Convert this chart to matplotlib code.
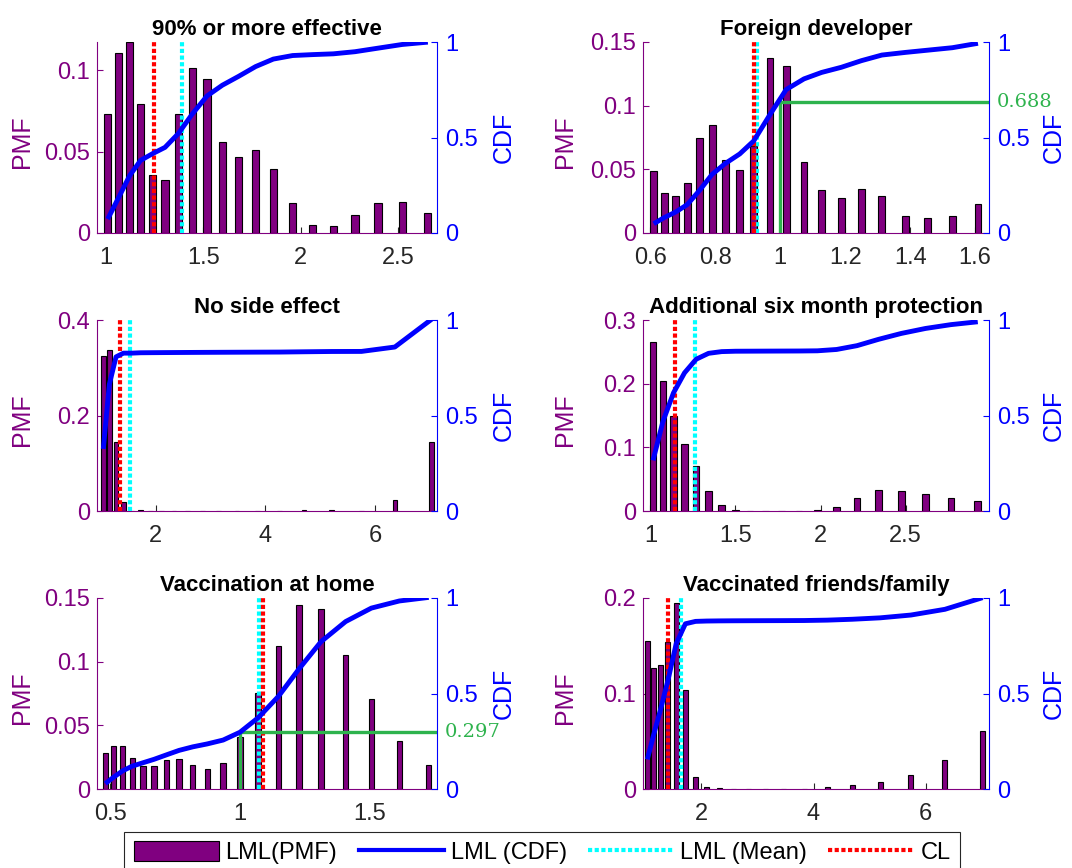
import numpy as np
import matplotlib
matplotlib.use("Agg")
import matplotlib.pyplot as plt
from matplotlib.patches import Patch
from matplotlib.lines import Line2D
import matplotlib.transforms as mtransforms

# ---------------- data ----------------
titles = ["90% or more effective", "Foreign developer", "No side effect",
          "Additional six month protection", "Vaccination at home",
          "Vaccinated friends/family"]

x_effective = [1.010, 1.065, 1.123, 1.179, 1.241, 1.304, 1.373, 1.444, 1.520, 1.598,
               1.682, 1.769, 1.860, 1.959, 2.062, 2.168, 2.279, 2.397, 2.521, 2.653]
pmf_effective = [0.0730, 0.1107, 0.1173, 0.0794, 0.0354, 0.0325, 0.0730, 0.1016, 0.0949, 0.0558,
                 0.0467, 0.0510, 0.0393, 0.0185, 0.0049, 0.0041, 0.0111, 0.0185, 0.0193, 0.0123]

x_foreign = [0.610, 0.642, 0.677, 0.713, 0.751, 0.790, 0.831, 0.875, 0.918, 0.968,
             1.018, 1.073, 1.127, 1.188, 1.250, 1.313, 1.385, 1.453, 1.530, 1.609]
pmf_foreign = [0.0486, 0.0318, 0.0289, 0.0389, 0.0744, 0.0846, 0.0573, 0.0494, 0.0680, 0.1375,
               0.1315, 0.0560, 0.0336, 0.0271, 0.0347, 0.0294, 0.0137, 0.0116, 0.0131, 0.0231]

x_noside = [1.044, 1.154, 1.276, 1.411, 1.560, 1.725, 1.907, 2.108, 2.331, 2.577,
            2.849, 3.150, 3.483, 3.851, 4.257, 4.707, 5.204, 5.753, 6.361, 7.030]
pmf_noside = [0.325, 0.338, 0.144, 0.0195, 0.0, 0.002, 0.0004, 0.0004, 0.0004, 0.0004,
              0.0004, 0.0004, 0.0004, 0.0004, 0.0004, 0.0015, 0.0015, 0.0004, 0.023, 0.145]

x_sixmonth = [1.016, 1.074, 1.136, 1.201, 1.269, 1.342, 1.419, 1.500, 1.586, 1.676,
              1.772, 1.873, 1.981, 2.094, 2.214, 2.340, 2.474, 2.616, 2.765, 2.923]
pmf_sixmonth = [0.265, 0.2035, 0.150, 0.105, 0.071, 0.031, 0.009, 0.002, 0.0003, 0.0003,
                0.0003, 0.0003, 0.001, 0.007, 0.020, 0.033, 0.031, 0.026, 0.020, 0.015]

x_home = [0.481, 0.513, 0.548, 0.585, 0.627, 0.669, 0.716, 0.765, 0.818, 0.874,
          0.935, 1.000, 1.070, 1.148, 1.228, 1.312, 1.407, 1.506, 1.614, 1.727]
pmf_home = [0.0283, 0.0335, 0.0335, 0.0246, 0.0178, 0.0178, 0.0230, 0.0236, 0.0186, 0.0154,
            0.0202, 0.0410, 0.0757, 0.1120, 0.1448, 0.1414, 0.1055, 0.0704, 0.0374, 0.0186]

x_friends = [1.036, 1.146, 1.267, 1.401, 1.550, 1.714, 1.896, 2.096, 2.318, 2.564,
             2.835, 3.136, 3.468, 3.835, 4.241, 4.690, 5.187, 5.737, 6.344, 7.016]
pmf_friends = [0.155, 0.127, 0.130, 0.154, 0.195, 0.104, 0.0126, 0.0018, 0.0008, 0.0005,
               0.0003, 0.0003, 0.0003, 0.0005, 0.0020, 0.0046, 0.0074, 0.0147, 0.0300, 0.0610]

lml_mean = [1.391, 0.928, 1.535, 1.264, 1.072, 1.631]
cl_value = [1.246, 0.918, 1.345, 1.145, 1.087, 1.403]

# green marker (x value, CDF value) for panels that have one
green_marks = {1: (1.0, 0.688), 4: (1.0, 0.297)}

xs = [x_effective, x_foreign, x_noside, x_sixmonth, x_home, x_friends]
pmfs = [pmf_effective, pmf_foreign, pmf_noside, pmf_sixmonth, pmf_home, pmf_friends]

xticks = [[1, 1.5, 2, 2.5], [0.6, 0.8, 1, 1.2, 1.4, 1.6], [2, 4, 6],
          [1, 1.5, 2, 2.5], [0.5, 1, 1.5], [2, 4, 6]]
xticklabels = [["1", "1.5", "2", "2.5"], ["0.6", "0.8", "1", "1.2", "1.4", "1.6"],
               ["2", "4", "6"], ["1", "1.5", "2", "2.5"], ["0.5", "1", "1.5"], ["2", "4", "6"]]
yticks = [[0, 0.05, 0.1], [0, 0.05, 0.1, 0.15], [0, 0.2, 0.4],
          [0, 0.1, 0.2, 0.3], [0, 0.05, 0.1, 0.15], [0, 0.1, 0.2]]
yticklabels = [["0", "0.05", "0.1"], ["0", "0.05", "0.1", "0.15"], ["0", "0.2", "0.4"],
               ["0", "0.1", "0.2", "0.3"], ["0", "0.05", "0.1", "0.15"], ["0", "0.1", "0.2"]]
cdf_ticks = [0, 0.5, 1]
cdf_ticklabels = ["0", "0.5", "1"]

# ---------------- style / layout ----------------
xlims = [(0.955, 2.70), (0.577, 1.643), (0.929, 7.13), (0.957, 2.989), (0.449, 1.759), (0.958, 7.13)]
ylims_top = [0.1175, 0.15, 0.4, 0.3, 0.15, 0.2]
bar_widths = [0.037, 0.021, 0.085, 0.039, 0.021, 0.09]

purple = (0.5, 0.0, 0.5)
blue = (0.0, 0.0, 1.0)
cyan = (0.0, 1.0, 1.0)
red = (1.0, 0.0, 0.0)
green = (0.18, 0.70, 0.30)
dark = (0.15, 0.15, 0.15)
dots = (0, (1.0, 0.6))

plt.rcParams['font.family'] = ['Liberation Sans', 'DejaVu Sans']

W, H = 1072, 868
fig = plt.figure(figsize=(W / 100, H / 100), dpi=100)
cols = [(97, 437), (643, 989)]
rows = [(42, 233), (320, 511), (598, 789)]
pmf_label_x = [-0.185, -0.19]
cdf_label_x = [1.162, 1.153]

FS = 17

for i in range(6):
    r, c = divmod(i, 2)
    l, rr = cols[c]
    t, b = rows[r]
    ax = fig.add_axes([l / W, 1 - b / H, (rr - l) / W, (b - t) / H])
    x = np.array(xs[i])
    p = np.array(pmfs[i])
    ax.bar(x, p, width=bar_widths[i], color=purple, edgecolor='black', linewidth=0.8, zorder=2)
    ax.axvline(lml_mean[i], color=cyan, ls=dots, lw=3.0, zorder=3)
    ax.axvline(cl_value[i], color=red, ls=dots, lw=3.0, zorder=4)
    ax.set_xlim(*xlims[i])
    ax.set_ylim(0, ylims_top[i])
    ax.set_xticks(xticks[i])
    ax.set_xticklabels(xticklabels[i])
    ax.set_yticks(yticks[i])
    ax.set_yticklabels(yticklabels[i])
    ax.set_title(titles[i], fontsize=16, fontweight='bold', pad=5)
    for s in ['top', 'right']:
        ax.spines[s].set_visible(False)
    ax.spines['left'].set_color(purple)
    ax.spines['bottom'].set_color(purple)
    ax.tick_params(axis='y', direction='in', colors=purple, labelsize=FS, length=4, pad=5)
    ax.tick_params(axis='x', direction='in', color=dark, labelcolor=dark, labelsize=FS,
                   length=4, pad=10)
    ax.set_ylabel('PMF', color=purple, fontsize=FS + 1)
    ax.yaxis.set_label_coords(pmf_label_x[c], 0.48)

    ax2 = ax.twinx()
    ax2.set_ylim(0, 1)
    ax2.set_yticks(cdf_ticks)
    ax2.set_yticklabels(cdf_ticklabels)
    for s in ['top', 'left', 'bottom']:
        ax2.spines[s].set_visible(False)
    ax2.spines['right'].set_color(blue)
    ax2.tick_params(axis='y', direction='in', colors=blue, labelsize=FS, length=4, pad=6)
    ax2.tick_params(axis='x', bottom=False, labelbottom=False)
    if i in green_marks:
        gx, gy = green_marks[i]
        ax2.plot([gx, gx], [0, gy], color=green, lw=2.4, zorder=1, solid_capstyle='butt')
        ax2.plot([gx, xlims[i][1]], [gy, gy], color=green, lw=2.4, zorder=1, solid_capstyle='butt')
        trans = mtransforms.blended_transform_factory(ax2.transAxes, ax2.transData)
        ax2.text(1.022, gy, f"{gy:.3f}", transform=trans, color=green, fontsize=14,
                 family=['DejaVu Serif'], va='center', ha='left')
    ax2.plot(x, np.cumsum(p), color=blue, lw=3.5, zorder=2, solid_capstyle='butt')
    ax2.set_ylabel('CDF', color=blue, fontsize=FS + 1)
    ax2.yaxis.set_label_coords(cdf_label_x[c], 0.5)

handles = [Patch(facecolor=purple, edgecolor='black', linewidth=0.8),
           Line2D([], [], color=blue, lw=3),
           Line2D([], [], color=cyan, lw=3, ls=dots),
           Line2D([], [], color=red, lw=3, ls=dots)]
labels = ["LML(PMF)", "LML (CDF)", "LML (Mean)", "CL"]
leg = fig.legend(handles, labels, loc='upper center', bbox_to_anchor=(0.5056, 1 - 832 / H),
                 ncol=4, fontsize=FS, frameon=True, fancybox=False, framealpha=1,
                 edgecolor=(0.15, 0.15, 0.15), handlelength=3.6, handleheight=0.9,
                 handletextpad=0.3, columnspacing=0.9, borderpad=0.4, borderaxespad=0)
leg.get_frame().set_linewidth(0.8)

fig.savefig("out.png", dpi=100)
